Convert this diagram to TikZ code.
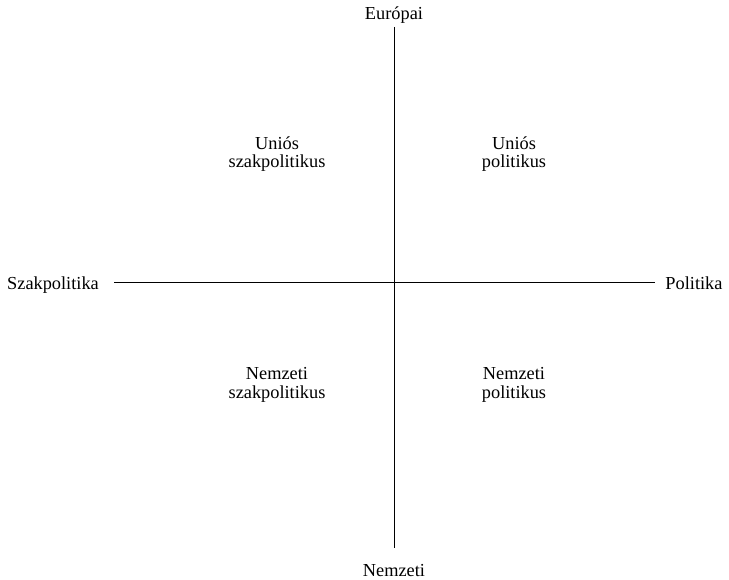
\documentclass[tikz,border=0pt]{standalone}
\usepackage{fontspec}
\setmainfont{Liberation Serif}
\usetikzlibrary{positioning}

\begin{document}
\begin{tikzpicture}[
  x=0.6pt,y=-0.6pt,
  axis/.style={black,line width=.6pt},
  axlbl/.style={font=\fontsize{11}{11}\selectfont,inner sep=0pt,anchor=base},
  quad/.style={align=center,font=\fontsize{11}{11}\selectfont,inner sep=1pt}
]
\useasboundingbox (0,0) rectangle (729,580);
% axes
\coordinate (eu) at (394,27);
\coordinate (nat) at (394,548);
\coordinate (szak) at (114,283);
\coordinate (pol) at (655,283);
\draw[axis] (eu)--(nat);
\draw[axis] (szak)--(pol);
% axis labels (placed at their baselines)
\node[axlbl] (leu) at (394,20) {Európai};
\node[axlbl] (lnat) at (394,576) {Nemzeti};
\node[axlbl] (lszak) at (53,290) {Szakpolitika};
\node[axlbl] (lpol) at (694,290) {Politika};
% quadrants
\node[quad] (q1) at (277,154) {Uniós\\szakpolitikus};
\node[quad] (q2) at (514,154) {Uniós\\politikus};
\node[quad] (q3) at (277,385) {Nemzeti\\szakpolitikus};
\node[quad] (q4) at (514,385) {Nemzeti\\politikus};
\end{tikzpicture}
\end{document}
